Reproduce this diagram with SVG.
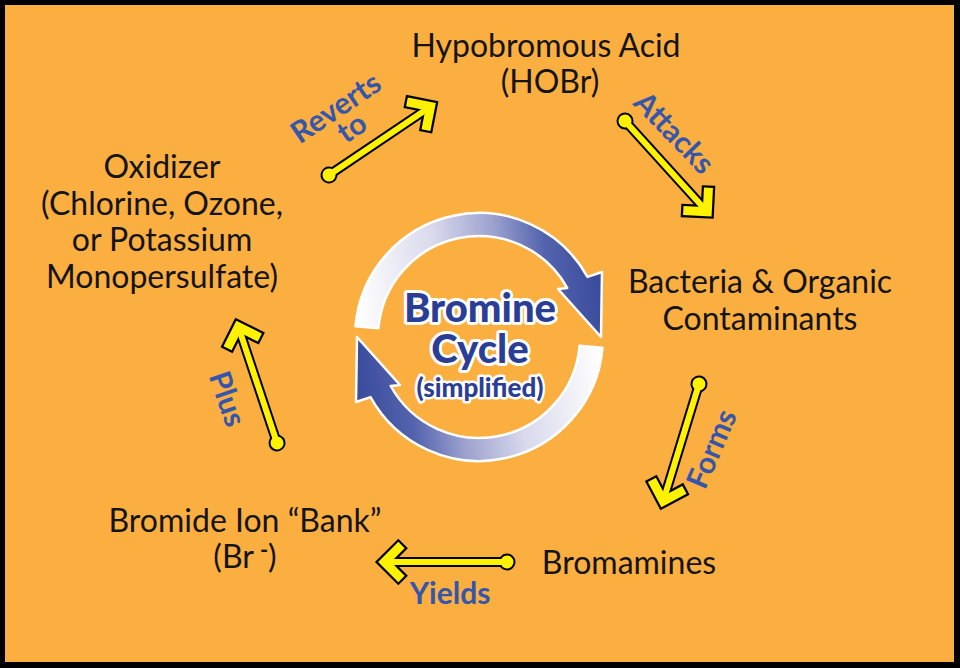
<svg xmlns="http://www.w3.org/2000/svg" xmlns:xlink="http://www.w3.org/1999/xlink" width="960" height="668" viewBox="0 0 960 668">
<style>
.node{font-family:Lato,"Liberation Sans",sans-serif;font-size:32px;fill:#141414;text-anchor:middle}
.lbl{font-family:Lato,"Liberation Sans",sans-serif;font-size:30px;font-weight:bold;fill:#3556ab;text-anchor:middle}
.ctr{font-family:Lato,"Liberation Sans",sans-serif;font-weight:900;fill:#2b3e96;text-anchor:middle;stroke:#fff;stroke-width:6;stroke-linejoin:round;paint-order:stroke}
</style>
<defs>
<linearGradient id="cg" gradientUnits="userSpaceOnUse" x1="360" y1="330" x2="600" y2="300">
<stop offset="0" stop-color="#ffffff"/>
<stop offset="0.35" stop-color="#d8d9ec"/>
<stop offset="0.6" stop-color="#9ca1ce"/>
<stop offset="0.8" stop-color="#5363ad"/>
<stop offset="1" stop-color="#3b4c9d"/>
</linearGradient>
<g id="yarrow">
<path d="M0,0 H122" stroke="#000" stroke-width="10" fill="none"/>
<path d="M103.9,-18.6 L122.5,0 L103.9,18.6" fill="none" stroke="#000" stroke-width="13.5" stroke-linejoin="miter"/>
<circle r="8.5" fill="#000"/>
<path d="M0,0 H120" stroke="#fff200" stroke-width="6" fill="none"/>
<path d="M105.5,-17 L122.5,0 L105.5,17" fill="none" stroke="#fff200" stroke-width="9" stroke-linejoin="miter"/>
<circle r="6.5" fill="#fff200"/>
</g>
<path id="carc" d="M355.5,326.2 A124,124 0 0 1 587.5,276.9 L602,272 L601,337 L558,289 L567.3,288 A101,101 0 0 0 378.4,328.2 Z"/>
</defs>
<rect x="0" y="0" width="960" height="668" fill="#000"/>
<rect x="5" y="5" width="949" height="657" fill="#fbaf41"/>

<g id="cycle">
<use xlink:href="#carc" href="#carc" fill="url(#cg)" stroke="#fff" stroke-width="2.5" stroke-linejoin="round"/>
<use xlink:href="#carc" href="#carc" fill="url(#cg)" stroke="#fff" stroke-width="2.5" stroke-linejoin="round" transform="rotate(180 479 337)"/>
<text class="ctr" x="480" y="322" font-size="40">Bromine</text>
<text class="ctr" x="480" y="363" font-size="40">Cycle</text>
<text class="ctr" x="480" y="397" font-size="26" style="stroke-width:5">(simplified)</text>
</g>

<g id="connectors">
<use xlink:href="#yarrow" href="#yarrow" transform="translate(329,175) rotate(-34)"/>
<use xlink:href="#yarrow" href="#yarrow" transform="translate(625,121) rotate(47.8)"/>
<use xlink:href="#yarrow" href="#yarrow" transform="translate(699,384) rotate(107)"/>
<use xlink:href="#yarrow" href="#yarrow" transform="translate(507,562) rotate(180)"/>
<use xlink:href="#yarrow" href="#yarrow" transform="translate(277,443) rotate(251.6)"/>
<text class="lbl" transform="translate(336,108) rotate(-34)" y="10">Reverts</text>
<text class="lbl" transform="translate(352,128) rotate(-34)" y="10">to</text>
<text class="lbl" transform="translate(674,133) rotate(46)" y="10">Attacks</text>
<text class="lbl" transform="translate(712,449) rotate(-67)" y="10">Forms</text>
<text class="lbl" x="450" y="604">Yields</text>
<text class="lbl" transform="translate(227,399) rotate(71)" y="10">Plus</text>
</g>

<g id="hobr">
<text class="node" x="546" y="57">Hypobromous Acid</text>
<text class="node" x="550" y="93">(HOBr)</text>
</g>
<g id="oxidizer">
<text class="node" x="162" y="178">Oxidizer</text>
<text class="node" x="162" y="215">(Chlorine, Ozone,</text>
<text class="node" x="162" y="251">or Potassium</text>
<text class="node" x="162" y="288">Monopersulfate)</text>
</g>
<g id="bacteria">
<text class="node" x="760" y="293">Bacteria &amp; Organic</text>
<text class="node" x="760" y="330">Contaminants</text>
</g>
<g id="bromamines">
<text class="node" x="629" y="574">Bromamines</text>
</g>
<g id="bromide">
<text class="node" x="245" y="532">Bromide Ion “Bank”</text>
<text class="node" x="245" y="568"><tspan>(Br</tspan><tspan dx="6" dy="-10" font-size="22" font-weight="bold">-</tspan><tspan dy="10">)</tspan></text>
</g>
</svg>
